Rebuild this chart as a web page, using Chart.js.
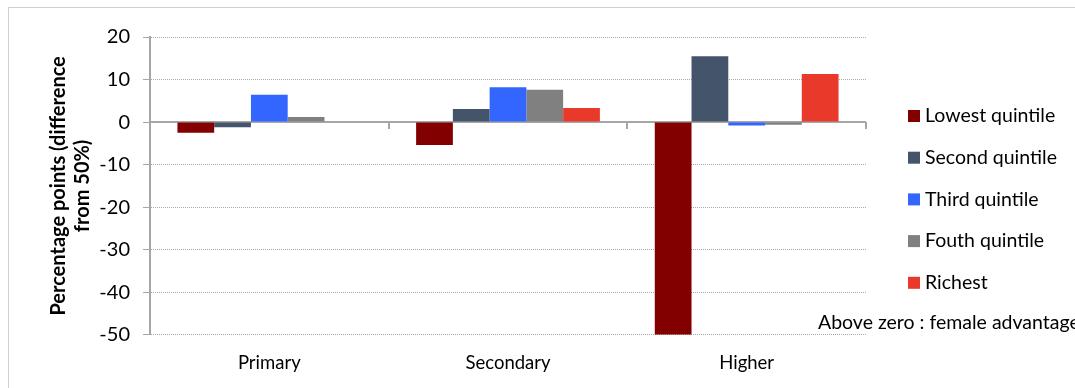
<!DOCTYPE html>
<html>
<head>
<meta charset="utf-8">
<script src="https://cdn.jsdelivr.net/npm/chart.js@4"></script>
<style>
  body { margin: 0; background: #fff; }
  #wrap { width: 1075px; height: 388px; position: relative; }
</style>
</head>
<body>
<div id="wrap"><canvas id="chart" width="1075" height="388"></canvas></div>
<script>
const levels = ['Primary', 'Secondary', 'Higher'];
const lowest = [-2.5, -5.4, -50];
const second = [-1.2, 3.1, 15.5];
const third = [6.4, 8.2, -0.8];
const fourth = [1.2, 7.6, -0.6];
const richest = [0, 3.3, 11.3];
const yTicks = [20, 10, 0, -10, -20, -30, -40, -50];
const note = 'Above zero : female advantage';

const FONT = 'Lato, "Open Sans", sans-serif';

// frame, zero line, category ticks, legend and the note
const extras = {
  id: 'extras',
  beforeDraw(chart) {
    const c = chart.ctx;
    c.save();
    c.strokeStyle = '#d0d0d0';
    c.lineWidth = 1;
    c.strokeRect(8.5, 7.5, 1100, 400);
    c.restore();
  },
  beforeDatasetsDraw(chart) {
    const c = chart.ctx, x = chart.scales.x, y = chart.scales.y;
    const y0 = y.getPixelForValue(0);
    c.save();
    c.strokeStyle = '#a6a6a6';
    c.lineWidth = 2;
    c.beginPath();
    c.moveTo(chart.chartArea.left, y0);
    c.lineTo(chart.chartArea.right, y0);
    for (let i = 0; i < levels.length; i++) {
      const px = Math.round(x.getPixelForValue(i + 0.5));
      c.moveTo(px, y0);
      c.lineTo(px, y0 + 7);
    }
    c.stroke();
    c.restore();
  },
  afterDraw(chart) {
    const c = chart.ctx;
    c.save();
    c.font = '19.5px ' + FONT;
    c.textBaseline = 'middle';
    chart.data.datasets.forEach((ds, i) => {
      const cy = 116 + i * 41.7;
      c.fillStyle = ds.backgroundColor;
      c.fillRect(908, cy - 6, 12, 12);
      c.fillStyle = '#000';
      c.fillText(ds.label, 925, cy);
    });
    c.fillText(note, 818, 323);
    c.restore();
  }
};

new Chart(document.getElementById('chart'), {
  type: 'bar',
  data: {
    labels: levels,
    datasets: [
      { label: 'Lowest quintile', data: lowest, backgroundColor: '#820000' },
      { label: 'Second quintile', data: second, backgroundColor: '#44546a' },
      { label: 'Third quintile', data: third, backgroundColor: '#3366ff' },
      { label: 'Fouth quintile', data: fourth, backgroundColor: '#808080' },
      { label: 'Richest', data: richest, backgroundColor: '#e8392a' }
    ]
  },
  options: {
    responsive: false,
    animation: false,
    layout: { padding: { left: 47, right: 209, top: 37, bottom: 5 } },
    datasets: { bar: { categoryPercentage: 0.77, barPercentage: 1.0 } },
    plugins: { legend: { display: false }, tooltip: { enabled: false } },
    scales: {
      x: {
        grid: { display: false },
        border: { display: false },
        ticks: { color: '#000', font: { family: FONT, size: 18.5 }, padding: 9 }
      },
      y: {
        min: -50,
        max: 20,
        afterBuildTicks: (s) => { s.ticks = yTicks.map(v => ({ value: v })); },
        afterFit: (s) => { s.width = 103; },
        grid: { color: '#a8a8a8', lineWidth: 1, tickLength: 7, tickColor: '#a6a6a6', tickBorderDash: [] },
        border: { display: true, color: '#a6a6a6', width: 2, dash: [1, 1] },
        ticks: { color: '#000', font: { family: FONT, size: 20 }, padding: 13 },
        title: {
          display: true,
          text: ['Percentage points (difference', 'from 50%)'],
          color: '#000',
          font: { family: FONT, size: 20, weight: 'bold' },
          lineHeight: 1.1,
          padding: { top: 0, bottom: 0 }
        }
      }
    }
  },
  plugins: [extras]
});
</script>
</body>
</html>
